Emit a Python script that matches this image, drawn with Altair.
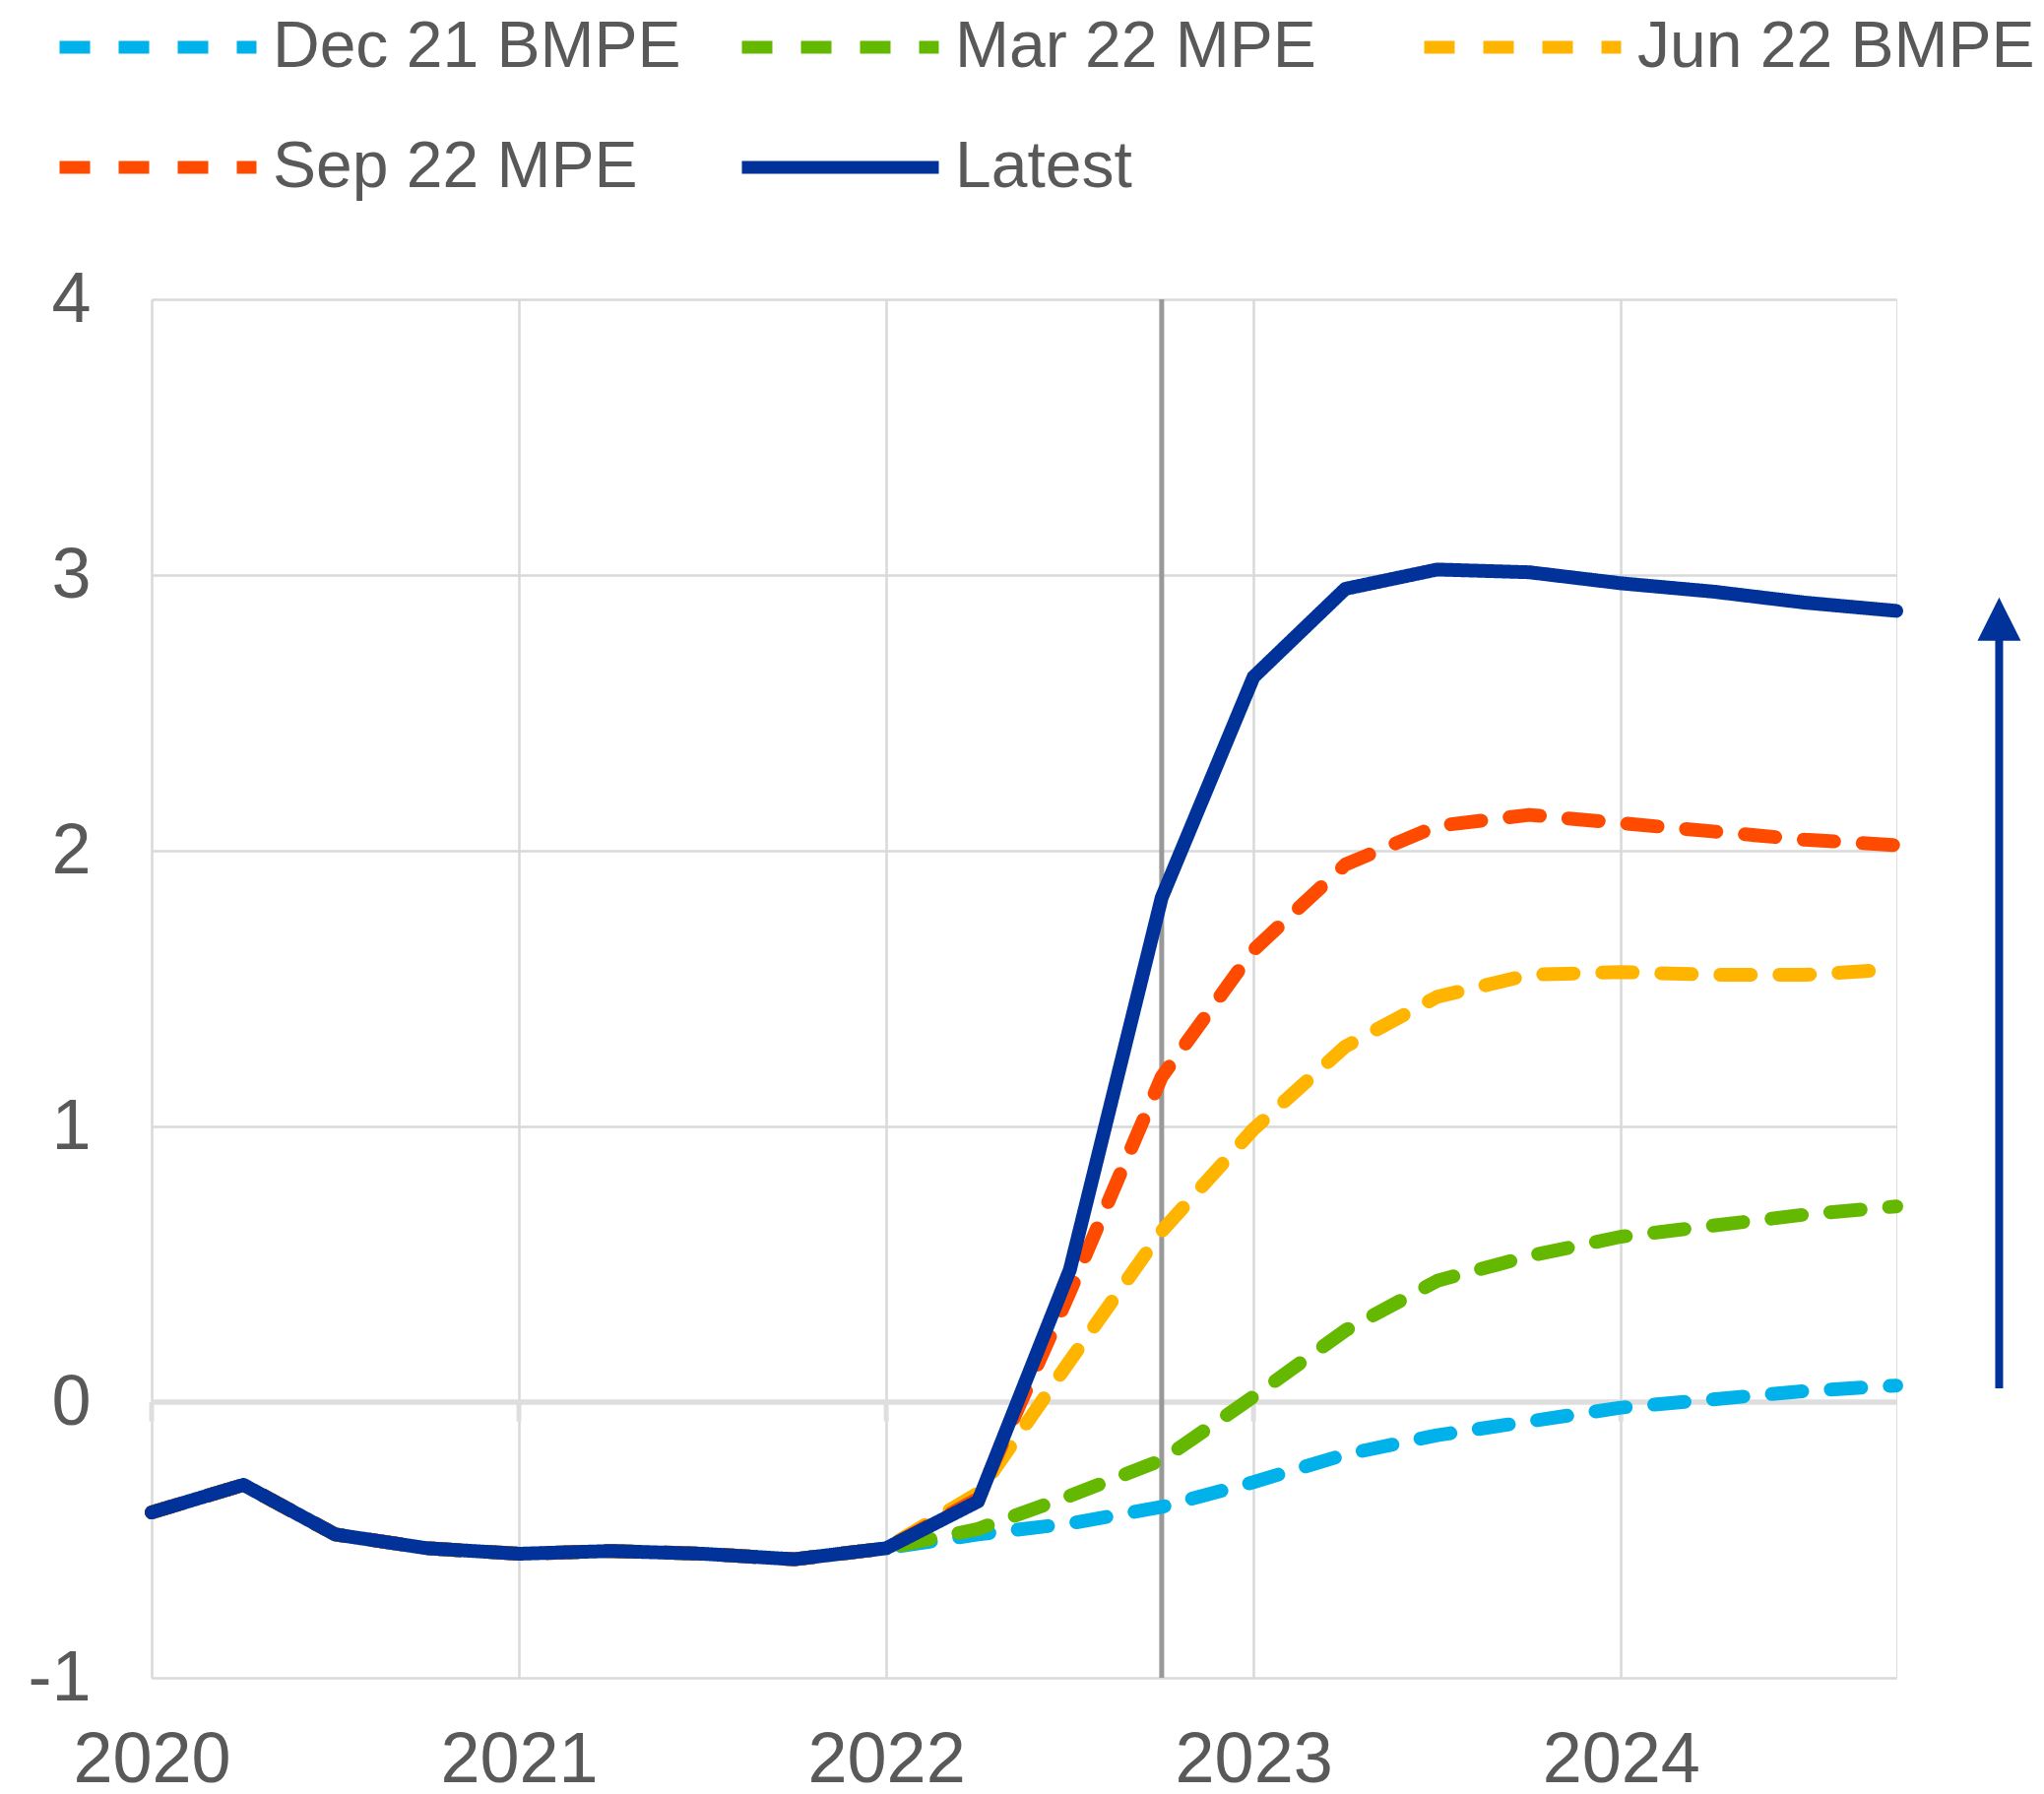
import altair as alt
import pandas as pd

# ---------------- data ----------------
quarters = [2020.0, 2020.25, 2020.5, 2020.75,
            2021.0, 2021.25, 2021.5, 2021.75,
            2022.0, 2022.25, 2022.5, 2022.75,
            2023.0, 2023.25, 2023.5, 2023.75,
            2024.0, 2024.25, 2024.5, 2024.75]

history = [-0.40, -0.30, -0.48, -0.53, -0.55, -0.54, -0.55, -0.57, -0.53]

dec21 = history + [-0.48, -0.44, -0.38, -0.29, -0.19, -0.12, -0.07, -0.02, 0.01, 0.04, 0.06]
mar22 = history + [-0.46, -0.34, -0.21, 0.02, 0.26, 0.44, 0.53, 0.60, 0.64, 0.68, 0.71]
jun22 = history + [-0.33, 0.15, 0.62, 0.99, 1.29, 1.47, 1.55, 1.56, 1.55, 1.55, 1.57]
sep22 = history + [-0.35, 0.40, 1.18, 1.64, 1.95, 2.09, 2.13, 2.10, 2.07, 2.04, 2.02]
latest = history + [-0.36, 0.48, 1.83, 2.63, 2.95, 3.02, 3.01, 2.97, 2.94, 2.90, 2.87]

series_names = ["Dec 21 BMPE", "Mar 22 MPE", "Jun 22 BMPE", "Sep 22 MPE", "Latest"]
series_values = [dec21, mar22, jun22, sep22, latest]
series_colors = ["#00B1EA", "#65B800", "#FFB400", "#FF4B00", "#003299"]
series_dashes = [[31, 29], [31, 29], [31, 29], [31, 29], [1, 0]]

year_ticks = [2020, 2021, 2022, 2023, 2024]
y_ticks = [-1, 0, 1, 2, 3, 4]
cutoff_x = [2022.75]
arrow_x = [2025.03]
arrow_y0 = [0.05]
arrow_y1 = [2.78]
arrow_head_y = [2.84]

# ---------------- frames ----------------
rows = []
for name, vals in zip(series_names, series_values):
    for q, v in zip(quarters, vals):
        rows.append({"series": name, "x": q, "value": v})
df = pd.DataFrame(rows)

FONT = "Liberation Sans"
TXT = "#595959"
GRID = "#d9d9d9"

xscale = alt.Scale(domain=[2020, 2024.75], nice=False, zero=False)
yscale = alt.Scale(domain=[-1, 4], nice=False, zero=False)

xaxis = alt.Axis(
    values=year_ticks, format="d", title=None, ticks=False, domain=False,
    grid=True, gridColor=GRID, gridWidth=2.5,
    labelFontSize=72, labelFont=FONT, labelColor=TXT, labelPadding=48,
    labelFlush=False, labelOverlap=False)
yaxis = alt.Axis(
    values=y_ticks, title=None, ticks=False, domain=False,
    grid=True, gridColor=GRID, gridWidth=2.5,
    labelExpr="datum.value < 0 ? '-' + abs(datum.value) : '' + datum.value",
    labelFontSize=72, labelFont=FONT, labelColor=TXT, labelPadding=62)

legend = alt.Legend(
    title=None, orient="none", legendX=-100, legendY=-296, direction="horizontal",
    columns=3, gridAlign="all", columnPadding=55, rowPadding=42, clipHeight=80,
    symbolType="stroke", symbolSize=40000, symbolStrokeWidth=13,
    labelFontSize=66, labelFont=FONT, labelColor=TXT, labelLimit=1000,
    labelOffset=10, padding=0,
)


def X(field="x"):
    return alt.X(f"{field}:Q", scale=xscale, axis=xaxis)


def Y(field):
    return alt.Y(f"{field}:Q", scale=yscale, axis=yaxis)


lines = alt.Chart(df).mark_line(
    strokeWidth=14, strokeCap="round", strokeJoin="round"
).encode(
    x=X(),
    y=Y("value"),
    color=alt.Color("series:N", sort=series_names,
                    scale=alt.Scale(domain=series_names, range=series_colors),
                    legend=legend),
    strokeDash=alt.StrokeDash("series:N", sort=series_names,
                              scale=alt.Scale(domain=series_names, range=series_dashes),
                              legend=legend),
)

zero_line = alt.Chart(pd.DataFrame({"y": [0]})).mark_rule(
    color="#dedede", strokeWidth=5.5
).encode(y=Y("y"))

tick_df = pd.DataFrame({"x": year_ticks, "y": [0] * len(year_ticks),
                        "y2": [-0.07] * len(year_ticks)})
year_marks = alt.Chart(tick_df).mark_rule(color="#dedede", strokeWidth=5).encode(
    x=X(), y=Y("y"), y2="y2:Q",
)

cutoff = alt.Chart(pd.DataFrame({"x": cutoff_x})).mark_rule(
    color="#999999", strokeWidth=5
).encode(x=X())

arrow_df = pd.DataFrame({"x": arrow_x, "y": arrow_y0, "y2": arrow_y1})
arrow_shaft = alt.Chart(arrow_df).mark_rule(color="#003299", strokeWidth=8).encode(
    x=X(), y=Y("y"), y2="y2:Q",
)
head_df = pd.DataFrame({"x": arrow_x, "y": arrow_head_y})
arrow_head = alt.Chart(head_df).mark_point(
    shape="M-1,1L1,1L0,-1Z", size=1936, filled=True, color="#003299", opacity=1,
    strokeWidth=0
).encode(x=X(), y=Y("y"))

chart = alt.layer(zero_line, year_marks, cutoff, lines, arrow_shaft, arrow_head).properties(
    width=1772, height=1400,
    autosize=alt.AutoSizeParams(type="none"),
    padding={"left": 146, "top": 296, "right": 142, "bottom": 112},
    background="white",
).configure_view(strokeWidth=0, stroke="transparent").configure(font=FONT)

chart.save("out.html", embed_options={"renderer": "svg", "actions": False})
